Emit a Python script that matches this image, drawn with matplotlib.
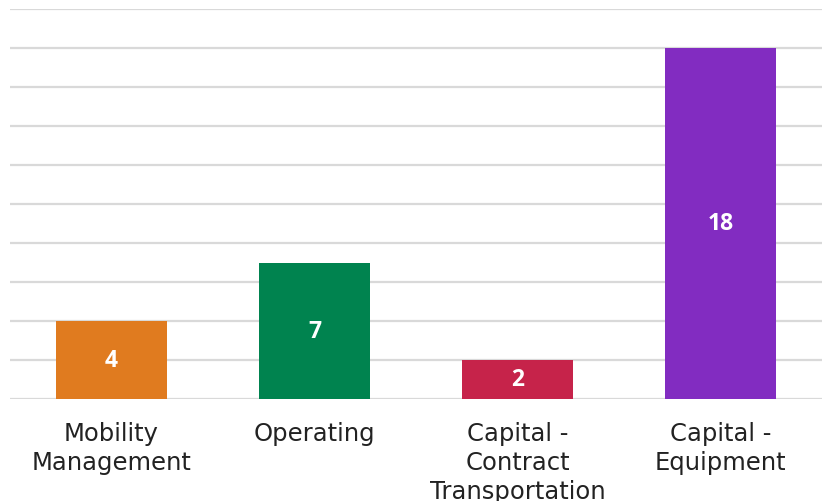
import matplotlib
matplotlib.use("Agg")
import matplotlib.pyplot as plt

# chart data
categories = ["Mobility\nManagement", "Operating", "Capital -\nContract\nTransportation", "Capital -\nEquipment"]
values = [4, 7, 2, 18]
colors = ["#E07B1F", "#00834F", "#C6234A", "#822CC1"]

plt.rcParams['font.family'] = ['DejaVu Sans']

fig = plt.figure(figsize=(8.27, 5.02), dpi=100)
ax = fig.add_axes([10 / 827, 1 - 400 / 502, 812 / 827, 390 / 502])

x = list(range(len(categories)))
bars = ax.bar(x, values, width=0.55, color=colors, zorder=3)

for xi, v in zip(x, values):
    ax.text(xi, v / 2, str(v), ha='center', va='center', color='white',
            fontsize=16.5, fontweight='bold', family=['Open Sans', 'DejaVu Sans'], zorder=4)

ax.set_xlim(-0.5, 3.5)
ax.set_ylim(0, 20)
ax.set_yticks(range(0, 21, 2))
ax.yaxis.grid(True, color='#d9d9d9', linewidth=1.6, zorder=0)
ax.tick_params(axis='y', left=False, labelleft=False)
ax.tick_params(axis='x', bottom=False, pad=12)
ax.set_xticks(x)
ax.set_xticklabels(categories, fontsize=17.5, color='#222222', linespacing=1.27)
for s in ax.spines.values():
    s.set_visible(False)

fig.savefig("out.png", dpi=100)
